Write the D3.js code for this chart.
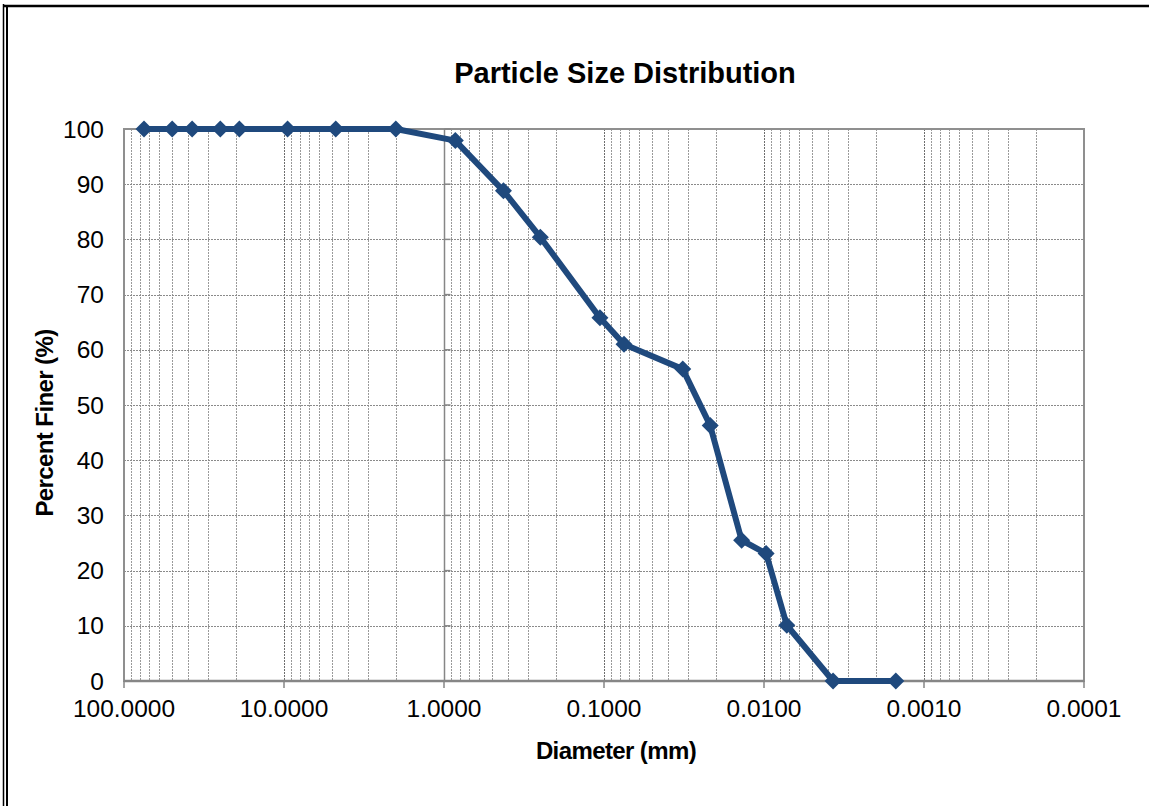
<!DOCTYPE html>
<html>
<head>
<meta charset="utf-8">
<script src="https://cdn.jsdelivr.net/npm/d3@7"></script>
<style>
  body { margin: 0; background: #fff; }
  svg { display: block; font-family: "Liberation Sans", Arial, sans-serif; }
</style>
</head>
<body>
<div id="chart"></div>
<script>
// sieve + hydrometer results
const diameters = [75, 50, 37.5, 25, 19, 9.5, 4.75, 2.0, 0.85, 0.425, 0.25, 0.106, 0.075,
                   0.0322, 0.0217, 0.0138, 0.0097, 0.0072, 0.0037, 0.0015];
const percentFiner = [100, 100, 100, 100, 100, 100, 100, 100, 97.9, 88.8, 80.4, 65.8, 61.0,
                      56.5, 46.3, 25.5, 23.1, 10.1, 0, 0];
const xTicks = [100, 10, 1, 0.1, 0.01, 0.001, 0.0001];
const yTicks = [0, 10, 20, 30, 40, 50, 60, 70, 80, 90, 100];

const width = 1149, height = 806;
const plot = { left: 124, right: 1084, top: 129, bottom: 681 };

const svg = d3.select("#chart").append("svg")
    .attr("width", width)
    .attr("height", height);

// outer frame (double line on the left, heavy top)
svg.append("line").attr("x1", 3.5).attr("x2", 3.5).attr("y1", 4).attr("y2", height)
    .attr("stroke", "#000").attr("stroke-width", 1.5);
svg.append("line").attr("x1", 7).attr("x2", 7).attr("y1", 5).attr("y2", height)
    .attr("stroke", "#000").attr("stroke-width", 2);
svg.append("line").attr("x1", 3).attr("x2", width).attr("y1", 6).attr("y2", 6)
    .attr("stroke", "#000").attr("stroke-width", 2.5);

// scales - log x reversed
const x = d3.scaleLog().domain([100, 0.0001]).range([plot.left, plot.right]);
const y = d3.scaleLinear().domain([0, 100]).range([plot.bottom, plot.top]);

const grid = svg.append("g").attr("class", "grid");

// vertical minor/major gridlines
const vLines = [];
for (let k = -4; k <= 1; k++) {
    for (let i = 1; i <= 9; i++) {
        const v = +(i * Math.pow(10, k)).toPrecision(3);
        if (v > 100 || v <= 0.0001) continue;
        vLines.push(v);
    }
}
grid.selectAll(".vgrid")
    .data(vLines.filter(v => v !== 1 && v !== 100))
    .enter().append("line")
    .attr("class", "vgrid")
    .attr("x1", d => Math.round(x(d)) + 0.5)
    .attr("x2", d => Math.round(x(d)) + 0.5)
    .attr("y1", plot.top)
    .attr("y2", plot.bottom)
    .attr("stroke", d => xTicks.includes(d) ? "#6e6e6e" : "#9a9a9a")
    .attr("stroke-width", 1)
    .attr("stroke-dasharray", "2,1");

// horizontal gridlines
grid.selectAll(".hgrid")
    .data(yTicks.filter(v => v > 0 && v < 100))
    .enter().append("line")
    .attr("class", "hgrid")
    .attr("x1", plot.left)
    .attr("x2", plot.right)
    .attr("y1", d => Math.round(y(d)) + 0.5)
    .attr("y2", d => Math.round(y(d)) + 0.5)
    .attr("stroke", "#8a8a8a")
    .attr("stroke-width", 1)
    .attr("stroke-dasharray", "2,1");

// plot area border
svg.append("rect")
    .attr("x", plot.left).attr("y", plot.top)
    .attr("width", plot.right - plot.left).attr("height", plot.bottom - plot.top)
    .attr("fill", "none").attr("stroke", "#8f8f8f").attr("stroke-width", 2);

// value axis line crosses at 1.0 mm, ticks to the right
const xCross = Math.round(x(1)) + 0.5;
svg.append("line")
    .attr("x1", xCross).attr("x2", xCross).attr("y1", plot.top).attr("y2", plot.bottom)
    .attr("stroke", "#868686").attr("stroke-width", 1.5);
svg.selectAll(".ytickmark")
    .data(yTicks)
    .enter().append("line")
    .attr("x1", xCross).attr("x2", xCross + 6)
    .attr("y1", d => y(d)).attr("y2", d => y(d))
    .attr("stroke", "#868686").attr("stroke-width", 1.5);

// bottom axis
svg.append("line")
    .attr("x1", plot.left).attr("x2", plot.right).attr("y1", plot.bottom).attr("y2", plot.bottom)
    .attr("stroke", "#868686").attr("stroke-width", 2.5);
svg.selectAll(".xtickmark")
    .data(xTicks)
    .enter().append("line")
    .attr("x1", d => x(d)).attr("x2", d => x(d))
    .attr("y1", plot.bottom).attr("y2", plot.bottom + 7)
    .attr("stroke", "#868686").attr("stroke-width", 1.5);

// tick labels
svg.selectAll(".xlabel")
    .data(xTicks)
    .enter().append("text")
    .attr("x", d => x(d))
    .attr("y", 717)
    .attr("text-anchor", "middle")
    .style("font-size", "24.5px")
    .attr("fill", "#000")
    .text(d => d.toFixed(4));

svg.selectAll(".ylabel")
    .data(yTicks)
    .enter().append("text")
    .attr("x", 104)
    .attr("y", d => y(d) + 8.5)
    .attr("text-anchor", "end")
    .style("font-size", "24.5px")
    .attr("fill", "#000")
    .text(d => d);

// data line + diamond markers
const line = d3.line()
    .x((d, i) => x(diameters[i]))
    .y(d => y(d));

svg.append("path")
    .datum(percentFiner)
    .attr("d", line)
    .attr("fill", "none")
    .attr("stroke", "#1f497d")
    .attr("stroke-width", 6)
    .attr("stroke-linejoin", "round");

const r = 8.5;
svg.selectAll(".marker")
    .data(percentFiner)
    .enter().append("path")
    .attr("class", "marker")
    .attr("transform", (d, i) => `translate(${x(diameters[i])},${y(d)})`)
    .attr("d", `M0,${-r}L${r},0L0,${r}L${-r},0Z`)
    .attr("fill", "#1f497d");

// titles
svg.append("text")
    .attr("x", 625).attr("y", 83)
    .attr("text-anchor", "middle")
    .style("font-size", "29px").style("font-weight", "bold")
    .text("Particle Size Distribution");

svg.append("text")
    .attr("transform", "translate(53,423) rotate(-90)")
    .attr("text-anchor", "middle")
    .style("font-size", "24px").style("font-weight", "bold")
    .style("letter-spacing", "-0.6px")
    .text("Percent Finer (%)");

svg.append("text")
    .attr("x", 616).attr("y", 759)
    .attr("text-anchor", "middle")
    .style("font-size", "24px").style("font-weight", "bold")
    .style("letter-spacing", "-0.6px")
    .text("Diameter (mm)");
</script>
</body>
</html>
